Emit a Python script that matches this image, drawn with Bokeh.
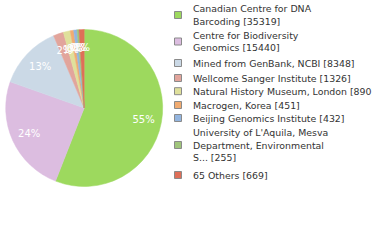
import math
from bokeh.plotting import figure
from bokeh.models import Range1d, ColumnDataSource
from bokeh.core.properties import value
from bokeh.embed import file_html
from bokeh.resources import INLINE

# ---- data ----
labels = [
    ["Canadian Centre for DNA", "Barcoding [35319]"],
    ["Centre for Biodiversity", "Genomics [15440]"],
    ["Mined from GenBank, NCBI [8348]"],
    ["Wellcome Sanger Institute [1326]"],
    ["Natural History Museum, London [890]"],
    ["Macrogen, Korea [451]"],
    ["Beijing Genomics Institute [432]"],
    ["University of L'Aquila, Mesva", "Department, Environmental", "S... [255]"],
    ["65 Others [669]"],
]
counts = [35319, 15440, 8348, 1326, 890, 451, 432, 255, 669]
colors = ["#9dd95e", "#dcbde0", "#cbd9e6", "#e2a59c", "#dfe09b",
          "#f1ab70", "#93b5df", "#a0c57b", "#df6f58"]

# ---- layout (reference pixel coords, y from top) ----
W, H = 372, 232
CX, CY, R = 83.7, 107.5, 78.5
legend_sq_y = [14.5, 41, 62.5, 77.5, 90.7, 104.5, 117.5, 144.5, 174.5]
LINE_H = 12.2
SQ_X, TXT_X = 177.5, 192.5

def fy(y):
    return 240 - y

p = figure(width=W, height=H, output_backend="svg", toolbar_location=None,
           x_range=Range1d(0, W), y_range=Range1d(240 - H, 240),
           min_border=0)
p.axis.visible = False
p.grid.visible = False
p.outline_line_color = None
p.background_fill_color = "white"

total = sum(counts)
starts, ends, mids = [], [], []
acc = 0.0
for c in counts:
    f0 = acc / total
    acc += c
    f1 = acc / total
    starts.append(math.pi / 2 - 2 * math.pi * f0)
    ends.append(math.pi / 2 - 2 * math.pi * f1)
    mids.append(math.pi / 2 - 2 * math.pi * (f0 + f1) / 2)

src = ColumnDataSource(dict(start=starts, end=ends, color=colors))
p.wedge(x=CX, y=fy(CY), radius=R, start_angle="start", end_angle="end",
        direction="clock", fill_color="color", line_color="color",
        line_width=0.5, source=src)

pct = [f"{int(100 * c / total)}%" for c in counts]
lr = 0.77 * R
lx = [CX + lr * math.cos(a) for a in mids]
ly = [fy(CY) + lr * math.sin(a) for a in mids]
p.text(x=lx, y=ly, text=pct, text_color="white", text_font=value("DejaVu Sans"),
       text_font_size="10px", text_align="center", text_baseline="middle")

# legend
sx, sy, tx, ty, tt = [], [], [], [], []
for lab, yc in zip(labels, legend_sq_y):
    sx.append(SQ_X)
    sy.append(fy(yc))
    n = len(lab)
    for i, line in enumerate(lab):
        tx.append(TXT_X)
        ty.append(fy(yc + (i - (n - 1) / 2) * LINE_H))
        tt.append(line)
p.rect(x=sx, y=sy, width=7, height=7, fill_color=colors,
       line_color="#8a8a8a", line_width=1)
p.text(x=tx, y=ty, text=tt, text_color="#333333", text_font=value("DejaVu Sans"),
       text_font_size="9.4px", text_align="left", text_baseline="middle")

open("out.html", "w").write(file_html(p, INLINE))
